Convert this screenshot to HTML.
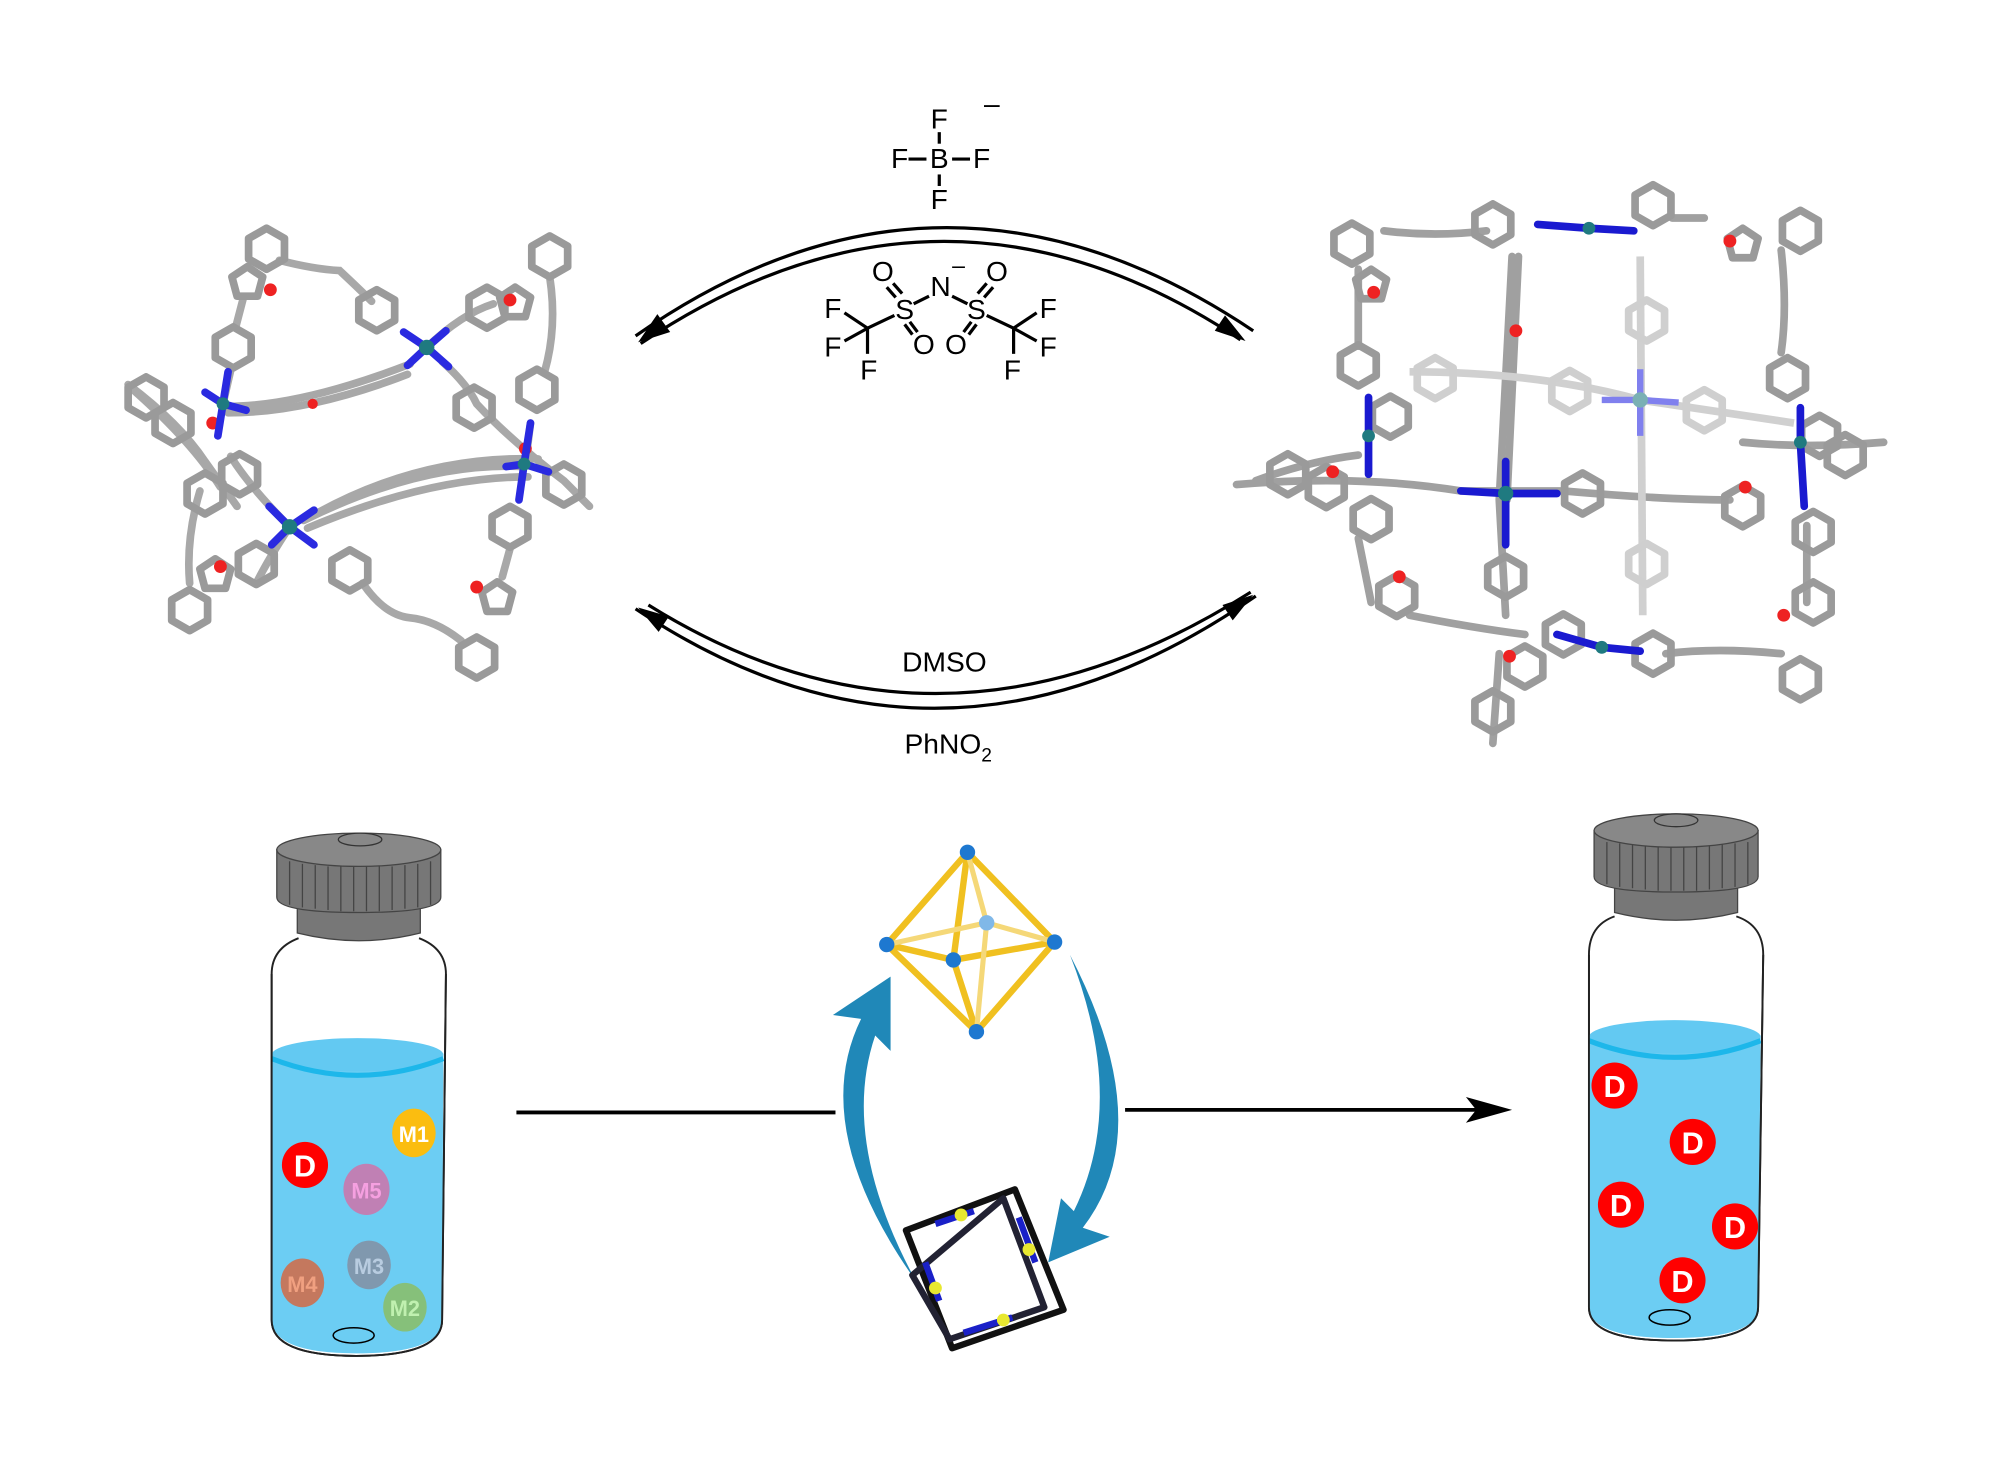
<!DOCTYPE html>
<html><head><meta charset="utf-8"><style>
html,body{margin:0;padding:0;background:#fff}
svg{display:block}
text{font-family:"Liberation Sans",sans-serif}
</style></head><body>
<svg width="1999" height="1465" viewBox="0 0 1560 1143" xmlns="http://www.w3.org/2000/svg">
<defs>
<g id="hx"><polygon points="0,-16 14,-8 14,8 0,16 -14,8 -14,-8" fill="none" stroke="#9a9a9a" stroke-width="6" stroke-linejoin="round"/></g>
<g id="hxl"><polygon points="0,-16 14,-8 14,8 0,16 -14,8 -14,-8" fill="none" stroke="#cfcfcf" stroke-width="6" stroke-linejoin="round"/></g>
<g id="pt"><polygon points="0,-12 12,-4 8,11 -8,11 -12,-4" fill="none" stroke="#9a9a9a" stroke-width="6" stroke-linejoin="round"/></g>
</defs>

<!-- BF4 -->
<g font-size="22" fill="#000" text-anchor="middle">
<text x="733" y="100">F</text>
<text x="733" y="131">B</text>
<text x="702" y="131">F</text>
<text x="766" y="131">F</text>
<text x="733" y="163">F</text>
<text x="774" y="88">–</text>
</g>
<g stroke="#000" stroke-width="2.5">
<line x1="733" y1="103" x2="733" y2="112"/><line x1="733" y1="136" x2="733" y2="145"/>
<line x1="709" y1="124" x2="723" y2="124"/><line x1="743" y1="124" x2="757" y2="124"/>
</g>
<!-- Tf2N -->
<g font-size="22" fill="#000" text-anchor="middle">
<text x="689" y="219">O</text><text x="778" y="219">O</text>
<text x="734" y="231">N</text><text x="748" y="213" font-size="18">–</text>
<text x="706" y="249">S</text><text x="762" y="249">S</text>
<text x="650" y="248">F</text><text x="818" y="248">F</text>
<text x="650" y="278">F</text><text x="818" y="278">F</text>
<text x="721" y="276">O</text><text x="746" y="276">O</text>
<text x="678" y="296">F</text><text x="790" y="296">F</text>
</g>
<g stroke="#000" stroke-width="2.5">
<line x1="713" y1="237" x2="725" y2="231"/><line x1="743" y1="231" x2="755" y2="237"/>
<line x1="692" y1="224" x2="699" y2="232"/><line x1="697" y1="221" x2="704" y2="229"/>
<line x1="775" y1="224" x2="768" y2="232"/><line x1="770" y1="221" x2="763" y2="229"/>
<line x1="710" y1="251" x2="716" y2="259"/><line x1="706" y1="253" x2="712" y2="261"/>
<line x1="758" y1="251" x2="752" y2="259"/><line x1="762" y1="253" x2="756" y2="261"/>
<line x1="698" y1="246" x2="677" y2="256"/><line x1="770" y1="246" x2="791" y2="256"/>
<line x1="659" y1="244" x2="677" y2="256"/><line x1="659" y1="266" x2="677" y2="256"/><line x1="677" y1="256" x2="677" y2="276"/>
<line x1="809" y1="244" x2="791" y2="256"/><line x1="809" y1="266" x2="791" y2="256"/><line x1="791" y1="256" x2="791" y2="276"/>
</g>

<!-- arcs -->
<g fill="none" stroke="#000" stroke-width="2.5">
<path d="M496,262 Q735,95 978,258"/>
<path d="M500,268 Q735,110 968,265"/>
<path d="M496,475 Q735,635 980,465"/>
<path d="M506,472 Q735,615 976,462"/>
</g>
<polygon points="498,267 523,259 513,245" fill="#000"/>
<polygon points="972,266 948,258 956,246" fill="#000"/>
<polygon points="498,474 522,481 514,493" fill="#000"/>
<polygon points="978,464 962,484 954,472" fill="#000"/>
<text x="737" y="524" font-size="22" text-anchor="middle">DMSO</text>
<text x="740" y="588" font-size="22" text-anchor="middle">PhNO<tspan font-size="15" dy="6">2</tspan></text>

<!-- left molecule -->
<g stroke="#a8a8a8" stroke-width="6" fill="none" stroke-linecap="round">
<path d="M218,203 Q245,210 265,211 Q280,225 290,235"/>
<path d="M190,232 L184,255"/>
<path d="M180,289 L174,315"/>
<path d="M174,317 Q232,318 320,284"/>
<path d="M178,322 Q240,322 318,292"/>
<path d="M237,406 Q330,360 409,364"/>
<path d="M240,412 Q335,372 412,372"/>
<path d="M248,400 Q330,355 420,358"/>
<path d="M429,216 Q435,255 425,290"/>
<path d="M156,383 Q145,420 148,455"/>
<path d="M283,455 Q300,480 320,482 Q340,484 360,500"/>
<path d="M392,450 L398,428"/>
<path d="M410,362 L414,330"/>
<path d="M100,300 Q140,330 160,360 L185,395"/>
<path d="M105,305 Q150,345 172,380"/>
<path d="M180,356 Q195,380 226,411"/>
<path d="M345,282 Q365,300 372,315 Q400,345 440,375 L460,395"/>
<path d="M333,271 Q360,245 385,237"/>
<path d="M226,411 Q210,435 200,455"/>
</g>
<g>
<use href="#hx" x="208" y="194"/><use href="#pt" x="193" y="220"/><use href="#hx" x="182" y="271"/>
<use href="#hx" x="294" y="242"/><use href="#hx" x="429" y="200"/><use href="#pt" x="402" y="236"/>
<use href="#hx" x="380" y="240"/><use href="#hx" x="419" y="304"/><use href="#hx" x="370" y="318"/>
<use href="#hx" x="114" y="310"/><use href="#hx" x="135" y="330"/><use href="#hx" x="187" y="370"/><use href="#hx" x="160" y="385"/>
<use href="#hx" x="440" y="378"/><use href="#hx" x="398" y="411"/><use href="#pt" x="388" y="466"/>
<use href="#hx" x="372" y="513"/><use href="#hx" x="273" y="445"/><use href="#hx" x="148" y="476"/>
<use href="#pt" x="168" y="448"/><use href="#hx" x="200" y="440"/>
</g>
<g fill="#e22"><circle cx="211" cy="226" r="5"/><circle cx="398" cy="234" r="5"/><circle cx="166" cy="330" r="5"/><circle cx="410" cy="350" r="5"/><circle cx="172" cy="442" r="5"/><circle cx="372" cy="458" r="5"/><circle cx="244" cy="315" r="4"/></g>
<g stroke="#2a2ae0" stroke-width="6" stroke-linecap="round">
<line x1="333" y1="271" x2="315" y2="259"/><line x1="333" y1="271" x2="318" y2="285"/><line x1="333" y1="271" x2="348" y2="258"/><line x1="333" y1="271" x2="350" y2="286"/>
<line x1="226" y1="411" x2="210" y2="395"/><line x1="226" y1="411" x2="245" y2="398"/><line x1="226" y1="411" x2="212" y2="425"/><line x1="226" y1="411" x2="245" y2="425"/>
<line x1="174" y1="315" x2="178" y2="290"/><line x1="174" y1="315" x2="192" y2="320"/><line x1="174" y1="315" x2="170" y2="340"/><line x1="174" y1="315" x2="160" y2="306"/>
<line x1="409" y1="362" x2="414" y2="330"/><line x1="409" y1="362" x2="428" y2="368"/><line x1="409" y1="362" x2="405" y2="390"/><line x1="409" y1="362" x2="395" y2="364"/>
</g>
<g fill="#1f7a80"><circle cx="333" cy="271" r="6"/><circle cx="226" cy="411" r="6"/><circle cx="174" cy="315" r="5"/><circle cx="409" cy="362" r="5"/></g>

<!-- right molecule -->
<g stroke="#a0a0a0" stroke-width="6" fill="none" stroke-linecap="round">
<path d="M1080,180 Q1120,185 1160,180"/>
<path d="M1305,170 L1330,170"/>
<path d="M1390,195 Q1395,240 1390,275"/>
<path d="M1060,210 L1060,270"/>
<path d="M1180,200 L1170,390 L1175,480"/>
<path d="M1185,200 L1176,390"/>
<path d="M965,378 Q1060,370 1140,383 L1220,383 Q1300,390 1350,390"/>
<path d="M1410,410 L1410,470"/>
<path d="M1060,420 L1070,470"/>
<path d="M1100,480 Q1150,490 1190,495"/>
<path d="M1300,510 Q1340,505 1390,510"/>
<path d="M1170,510 L1165,580"/>
<path d="M1360,345 Q1410,350 1470,345"/>
<path d="M980,375 Q1020,360 1060,355"/>
</g>
<g stroke="#d0d0d0" stroke-width="6" fill="none">
<path d="M1100,290 Q1200,290 1280,312 L1400,330"/>
<path d="M1280,200 L1282,480"/>
</g>
<g>
<use href="#hx" x="1055" y="190"/><use href="#pt" x="1070" y="222"/><use href="#hx" x="1165" y="175"/>
<use href="#hx" x="1290" y="160"/><use href="#hx" x="1405" y="180"/><use href="#pt" x="1360" y="190"/><use href="#hx" x="1060" y="285"/>
<use href="#hx" x="1395" y="295"/><use href="#hx" x="1085" y="325"/><use href="#hx" x="1420" y="340"/><use href="#hx" x="1440" y="355"/>
<use href="#hx" x="1005" y="370"/><use href="#hx" x="1035" y="380"/><use href="#hx" x="1235" y="385"/><use href="#hx" x="1360" y="395"/>
<use href="#hx" x="1070" y="405"/><use href="#hx" x="1415" y="415"/><use href="#hx" x="1090" y="465"/>
<use href="#hx" x="1415" y="470"/><use href="#hx" x="1175" y="450"/><use href="#hx" x="1290" y="510"/>
<use href="#hx" x="1405" y="530"/><use href="#hx" x="1165" y="555"/><use href="#hx" x="1220" y="495"/><use href="#hx" x="1190" y="520"/>
<use href="#hxl" x="1285" y="250"/><use href="#hxl" x="1120" y="295"/><use href="#hxl" x="1225" y="305"/>
<use href="#hxl" x="1330" y="320"/><use href="#hxl" x="1285" y="440"/>
</g>
<g fill="#e22"><circle cx="1072" cy="228" r="5"/><circle cx="1350" cy="188" r="5"/><circle cx="1183" cy="258" r="5"/><circle cx="1040" cy="368" r="5"/><circle cx="1362" cy="380" r="5"/><circle cx="1092" cy="450" r="5"/><circle cx="1392" cy="480" r="5"/><circle cx="1178" cy="512" r="5"/></g>
<g stroke="#1a1ad0" stroke-width="6" stroke-linecap="round">
<line x1="1175" y1="385" x2="1140" y2="383"/><line x1="1175" y1="385" x2="1215" y2="385"/><line x1="1175" y1="385" x2="1175" y2="360"/><line x1="1175" y1="385" x2="1175" y2="425"/>
<line x1="1240" y1="178" x2="1200" y2="175"/><line x1="1240" y1="178" x2="1275" y2="180"/>
<line x1="1250" y1="505" x2="1215" y2="495"/><line x1="1250" y1="505" x2="1280" y2="508"/>
<line x1="1068" y1="340" x2="1068" y2="310"/><line x1="1068" y1="340" x2="1068" y2="370"/>
<line x1="1405" y1="345" x2="1405" y2="318"/><line x1="1405" y1="345" x2="1408" y2="395"/>
</g>
<g stroke="#8080ee" stroke-width="5"><line x1="1280" y1="312" x2="1250" y2="312"/><line x1="1280" y1="312" x2="1310" y2="314"/><line x1="1280" y1="312" x2="1280" y2="288"/><line x1="1280" y1="312" x2="1280" y2="340"/></g>
<g fill="#1f7a80"><circle cx="1175" cy="385" r="6"/><circle cx="1240" cy="178" r="5"/><circle cx="1250" cy="505" r="5"/><circle cx="1068" cy="340" r="5"/><circle cx="1405" cy="345" r="5"/></g>
<circle cx="1280" cy="312" r="6" fill="#7ab0b4"/>

<!-- left vial -->
<path d="M233,732 Q212,740 212,760 L212,1030 Q212,1058 278,1058 Q345,1058 345,1030 L348,760 Q348,740 327,732" fill="#fff" stroke="#222" stroke-width="1.5"/>
<path d="M212,822 Q278,800 346,822 L345,1030 Q345,1056 278,1056 Q213,1056 212,1030 Z" fill="#6ccdf3"/>
<ellipse cx="279" cy="823" rx="67" ry="13" fill="#63c9f2"/>
<path d="M212,826 Q279,852 346,826" fill="none" stroke="#1db7ea" stroke-width="4"/>
<path d="M212,760 L212,1030 Q212,1058 278,1058 Q345,1058 345,1030 L348,760" fill="none" stroke="#222" stroke-width="1.5"/>
<ellipse cx="276" cy="1042" rx="16" ry="6" fill="none" stroke="#000" stroke-width="1.2"/>
<path d="M232,700 L232,728 Q280,740 328,728 L328,700 Z" fill="#777" stroke="#444"/>
<path d="M216,663 L216,700 Q216,712 280,712 Q344,712 344,700 L344,663 Z" fill="#777" stroke="#444"/>
<g stroke="#444" stroke-width="1"><line x1="226" y1="672" x2="226" y2="706"/><line x1="236" y1="674" x2="236" y2="708"/><line x1="246" y1="675" x2="246" y2="709"/><line x1="256" y1="676" x2="256" y2="710"/><line x1="266" y1="676" x2="266" y2="711"/><line x1="276" y1="676" x2="276" y2="711"/><line x1="286" y1="676" x2="286" y2="711"/><line x1="296" y1="676" x2="296" y2="711"/><line x1="306" y1="676" x2="306" y2="710"/><line x1="316" y1="675" x2="316" y2="709"/><line x1="326" y1="674" x2="326" y2="708"/><line x1="336" y1="672" x2="336" y2="706"/></g>
<ellipse cx="280" cy="663" rx="64" ry="13" fill="#888" stroke="#444"/>
<ellipse cx="281" cy="655" rx="17" ry="5" fill="#888" stroke="#333"/>
<g font-weight="bold" text-anchor="middle">
<circle cx="238" cy="909" r="18" fill="#f00"/><text x="238" y="918" font-size="24" fill="#fff">D</text>
<ellipse cx="323" cy="884" rx="17" ry="19" fill="#fbbd10"/><text x="323" y="891" font-size="17" fill="#fff">M1</text>
<ellipse cx="286" cy="928" rx="18" ry="20" fill="#c080b4"/><text x="286" y="935" font-size="17" fill="#f5a0e0">M5</text>
<ellipse cx="236" cy="1001" rx="17" ry="19" fill="#c4785e"/><text x="236" y="1008" font-size="17" fill="#f0a080">M4</text>
<ellipse cx="288" cy="987" rx="17" ry="19" fill="#8098ae"/><text x="288" y="994" font-size="17" fill="#b8cce0">M3</text>
<ellipse cx="316" cy="1020" rx="17" ry="19" fill="#86c07a"/><text x="316" y="1027" font-size="17" fill="#c0f0b0">M2</text>
</g>

<!-- right vial -->
<path d="M1260,715 Q1240,722 1240,745 L1240,1020 Q1240,1046 1306,1046 Q1372,1046 1372,1020 L1376,745 Q1376,722 1355,715" fill="#fff" stroke="#222" stroke-width="1.5"/>
<path d="M1240,808 Q1306,788 1374,808 L1372,1020 Q1372,1044 1306,1044 Q1241,1044 1240,1020 Z" fill="#6ccdf3"/>
<ellipse cx="1307" cy="809" rx="67" ry="13" fill="#63c9f2"/>
<path d="M1240,812 Q1307,838 1374,812" fill="none" stroke="#1db7ea" stroke-width="4"/>
<path d="M1240,745 L1240,1020 Q1240,1046 1306,1046 Q1372,1046 1372,1020 L1376,745" fill="none" stroke="#222" stroke-width="1.5"/>
<ellipse cx="1303" cy="1028" rx="16" ry="6" fill="none" stroke="#000" stroke-width="1.2"/>
<path d="M1260,684 L1260,712 Q1308,724 1356,712 L1356,684 Z" fill="#777" stroke="#444"/>
<path d="M1244,648 L1244,684 Q1244,696 1308,696 Q1372,696 1372,684 L1372,648 Z" fill="#777" stroke="#444"/>
<g stroke="#444" stroke-width="1"><line x1="1254" y1="657" x2="1254" y2="690"/><line x1="1264" y1="658" x2="1264" y2="692"/><line x1="1274" y1="659" x2="1274" y2="693"/><line x1="1284" y1="660" x2="1284" y2="694"/><line x1="1294" y1="660" x2="1294" y2="695"/><line x1="1304" y1="660" x2="1304" y2="695"/><line x1="1314" y1="660" x2="1314" y2="695"/><line x1="1324" y1="660" x2="1324" y2="695"/><line x1="1334" y1="660" x2="1334" y2="694"/><line x1="1344" y1="659" x2="1344" y2="693"/><line x1="1354" y1="658" x2="1354" y2="692"/><line x1="1364" y1="657" x2="1364" y2="690"/></g>
<ellipse cx="1308" cy="648" rx="64" ry="13" fill="#888" stroke="#444"/>
<ellipse cx="1308" cy="640" rx="17" ry="5" fill="#888" stroke="#333"/>
<g font-weight="bold" text-anchor="middle" font-size="24" fill="#fff">
<circle cx="1260" cy="847" r="18" fill="#f00"/><text x="1260" y="856">D</text>
<circle cx="1321" cy="891" r="18" fill="#f00"/><text x="1321" y="900">D</text>
<circle cx="1265" cy="940" r="18" fill="#f00"/><text x="1265" y="949">D</text>
<circle cx="1354" cy="957" r="18" fill="#f00"/><text x="1354" y="966">D</text>
<circle cx="1313" cy="999" r="18" fill="#f00"/><text x="1313" y="1008">D</text>
</g>

<!-- horizontal arrow -->
<line x1="403" y1="868" x2="652" y2="868" stroke="#000" stroke-width="3"/>
<line x1="878" y1="866" x2="1160" y2="866" stroke="#000" stroke-width="3"/>
<polygon points="1180,866 1144,856 1152,866 1144,876" fill="#000"/>

<!-- blue curved arrows -->
<path d="M715,1000 Q630,880 672,795 L650,792 L695,762 L695,820 L683,808 Q655,890 715,1000 Z" fill="#2088b8"/>
<path d="M835,745 Q905,880 845,958 L866,965 L818,985 L828,935 L838,945 Q880,860 835,745 Z" fill="#2088b8"/>

<!-- octahedron -->
<g stroke="#f0c020" stroke-width="5" stroke-linecap="round" fill="none">
<line x1="755" y1="665" x2="692" y2="737"/><line x1="755" y1="665" x2="823" y2="735"/><line x1="755" y1="665" x2="744" y2="749"/>
<line x1="692" y1="737" x2="744" y2="749"/><line x1="744" y1="749" x2="823" y2="735"/>
<line x1="692" y1="737" x2="762" y2="805"/><line x1="823" y1="735" x2="762" y2="805"/><line x1="744" y1="749" x2="762" y2="805"/>
</g>
<g stroke="#f5d878" stroke-width="4" fill="none"><line x1="755" y1="665" x2="770" y2="720"/><line x1="692" y1="737" x2="770" y2="720"/><line x1="770" y1="720" x2="823" y2="735"/><line x1="770" y1="720" x2="762" y2="805"/></g>
<g fill="#1e78d0"><circle cx="755" cy="665" r="6"/><circle cx="692" cy="737" r="6"/><circle cx="823" cy="735" r="6"/><circle cx="744" cy="749" r="6"/><circle cx="762" cy="805" r="6"/></g>
<circle cx="770" cy="720" r="6" fill="#80b8e8"/>

<!-- square cage -->
<g stroke-width="5" fill="none" stroke-linejoin="round">
<polygon points="707,960 792,928 830,1022 743,1052" stroke="#111"/>
<polygon points="712,995 783,935 815,1020 741,1045" stroke="#223"/>
</g>
<g stroke="#1a20c8" stroke-width="5"><line x1="730" y1="955" x2="760" y2="945"/><line x1="795" y1="950" x2="808" y2="985"/><line x1="752" y1="1040" x2="790" y2="1028"/><line x1="722" y1="985" x2="733" y2="1015"/></g>
<g fill="#e8e830"><circle cx="750" cy="948" r="5"/><circle cx="803" cy="975" r="5"/><circle cx="783" cy="1030" r="5"/><circle cx="730" cy="1005" r="5"/></g>
</svg>
</body></html>
